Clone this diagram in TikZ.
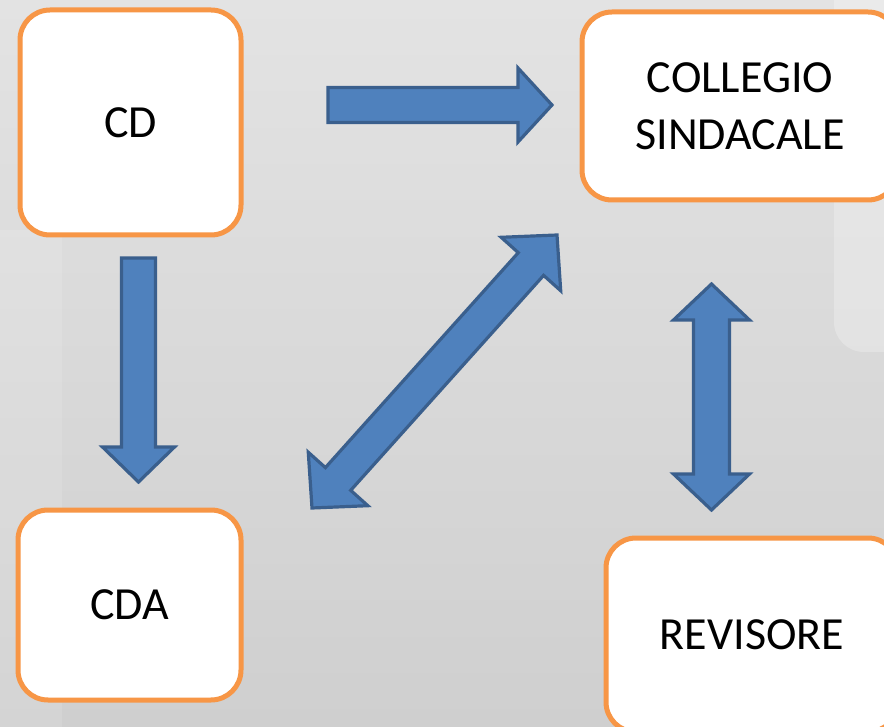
\documentclass[tikz,border=0pt]{standalone}
\usepackage{fontspec}
\setmainfont{Carlito}
\usetikzlibrary{calc}
\definecolor{boxorange}{HTML}{F79646}
\definecolor{arrfill}{HTML}{4F81BD}
\definecolor{arrline}{HTML}{3A5F8D}
\definecolor{bgtop}{HTML}{E3E3E3}
\definecolor{bgbot}{HTML}{CFCFCF}
\tikzset{
  box/.style={draw=boxorange, line width=5pt, fill=white, rounded corners=30pt,
    font=\fontsize{46}{57}\selectfont, align=center, inner sep=0pt},
  blockarrow/.style={draw=arrline, fill=arrfill, line width=3.2pt, line join=miter},
}
% single block arrow: #1 tail, #2 tip, #3 prefix, #4 head length, #5 head half-width, #6 shaft half-width
\newcommand\mysinglearrow[6]{%
  \coordinate (#3t1) at ($(#1)!#6!90:(#2)$);
  \coordinate (#3t2) at ($(#1)!#6!-90:(#2)$);
  \coordinate (#3b) at ($(#2)!#4!(#1)$);
  \coordinate (#3o1) at ($(#3b)!#5!90:(#2)$);
  \coordinate (#3o2) at ($(#3b)!#5!-90:(#2)$);
  \coordinate (#3i1) at ($(#3b)!#6!90:(#2)$);
  \coordinate (#3i2) at ($(#3b)!#6!-90:(#2)$);
  \draw[blockarrow] (#3t1) -- (#3i1) -- (#3o1) -- (#2) -- (#3o2) -- (#3i2) -- (#3t2) -- cycle;
}
% double block arrow: #1 tip A, #2 tip B, #3 prefix, #4 head length, #5 head half-width, #6 shaft half-width
\newcommand\mydoublearrow[6]{%
  \coordinate (#3ab) at ($(#1)!#4!(#2)$);
  \coordinate (#3ao1) at ($(#3ab)!#5!90:(#1)$);
  \coordinate (#3ao2) at ($(#3ab)!#5!-90:(#1)$);
  \coordinate (#3ai1) at ($(#3ab)!#6!90:(#1)$);
  \coordinate (#3ai2) at ($(#3ab)!#6!-90:(#1)$);
  \coordinate (#3bb) at ($(#2)!#4!(#1)$);
  \coordinate (#3bo1) at ($(#3bb)!#5!90:(#2)$);
  \coordinate (#3bo2) at ($(#3bb)!#5!-90:(#2)$);
  \coordinate (#3bi1) at ($(#3bb)!#6!90:(#2)$);
  \coordinate (#3bi2) at ($(#3bb)!#6!-90:(#2)$);
  \draw[blockarrow] (#1) -- (#3ao1) -- (#3ai1) -- (#3bi2) -- (#3bo2) -- (#2)
    -- (#3bo1) -- (#3bi1) -- (#3ai2) -- (#3ao2) -- cycle;
}
\begin{document}
\begin{tikzpicture}[x=1pt, y=-1pt]
  \useasboundingbox (0,0) rectangle (884,727);
  \clip (0,0) rectangle (884,727);
  % background
  \shade[top color=bgtop, bottom color=bgbot] (0,0) rectangle (884,727);
  \fill[white, opacity=0.12] (0,230) rectangle (62,727);
  \fill[white, opacity=0.25, rounded corners=30pt] (834,-40) rectangle (920,352);
  % boxes
  \node[box, minimum width=221pt, minimum height=225pt] (cd) at (130.5,122.5) {CD};
  \node[box, minimum width=316pt, minimum height=188pt] (cs) at (740,106) {COLLEGIO\\SINDACALE};
  \node[box, minimum width=223pt, minimum height=190pt] (cda) at (129.5,605) {CDA};
  \node[box, minimum width=292pt, minimum height=194pt] (rev) at (752,635) {REVISORE};
  % arrow end points
  \coordinate (rT) at (328,105);
  \coordinate (rH) at (552,105);
  \coordinate (dT) at (138.5,258);
  \coordinate (dH) at (138.5,482);
  \coordinate (vA) at (711.5,284);
  \coordinate (vB) at (711.5,510);
  \coordinate (gA) at (312,508);
  \coordinate (gB) at (557,235);
  % block arrows
  \mysinglearrow{rT}{rH}{r}{34pt}{37pt}{17.5pt}
  \mysinglearrow{dT}{dH}{d}{35pt}{36pt}{17pt}
  \mydoublearrow{vA}{vB}{v}{36pt}{38pt}{18pt}
  \mydoublearrow{gA}{gB}{g}{39pt}{40pt}{17pt}
\end{tikzpicture}
\end{document}
